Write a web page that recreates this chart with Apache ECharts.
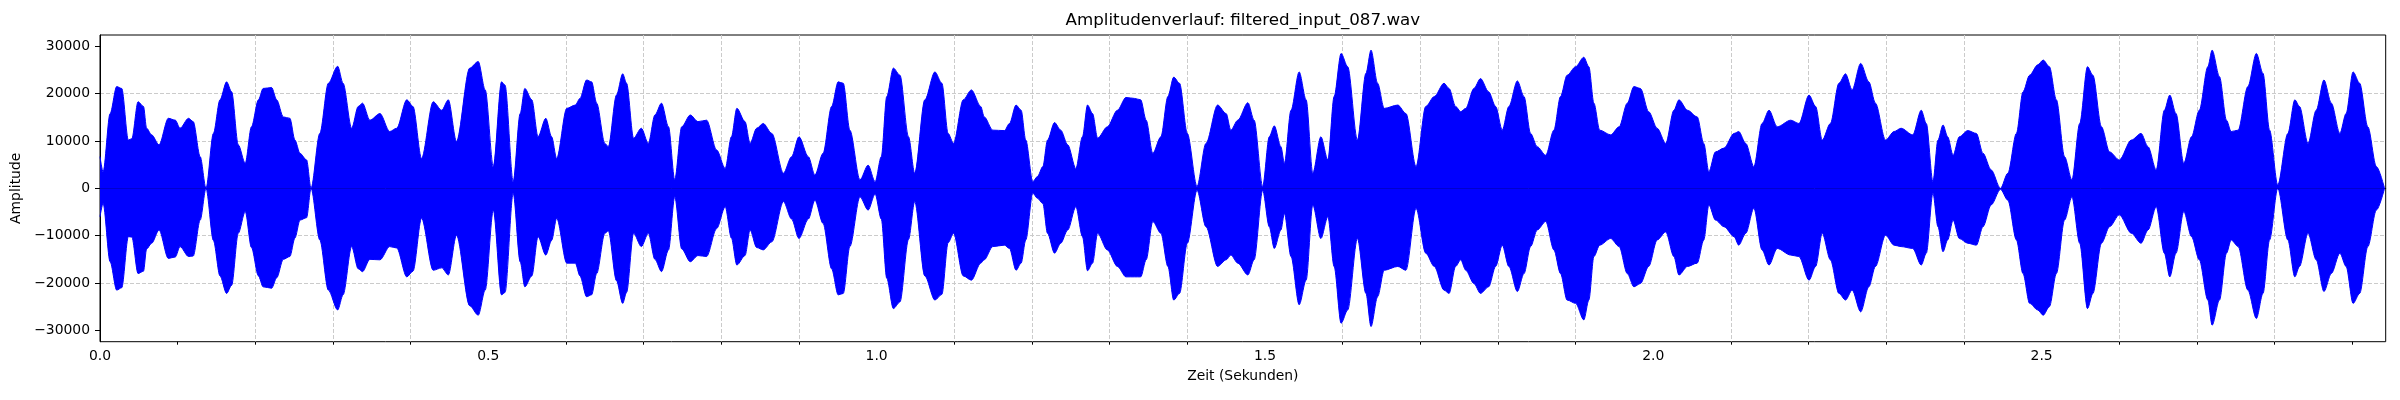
<!DOCTYPE html>
<html lang="de">
<head>
    <meta charset="UTF-8">
    <title>Amplitudenverlauf</title>
    <style>
        html, body { margin: 0; padding: 0; background: #fff; }
        #main { width: 2400px; height: 400px; }
    </style>
</head>
<body>
<div id="main"></div>
<script src="https://cdn.jsdelivr.net/npm/echarts@6/dist/echarts.min.js"></script>
<script type="text/javascript">
    var titleText = 'Amplitudenverlauf: filtered_input_087.wav';
    var xName = 'Zeit (Sekunden)';
    var yName = 'Amplitude';

    // Zeitpunkte (s) der Huellkurve
    var timeSec = [
        0, 0.004, 0.013, 0.0215, 0.028, 0.0365, 0.041, 0.049, 0.056, 0.060,
        0.0665, 0.076, 0.088, 0.097, 0.103, 0.114, 0.120, 0.129, 0.1365, 0.146,
        0.1545, 0.163, 0.1695, 0.178, 0.187, 0.195, 0.204, 0.210, 0.221, 0.2275,
        0.236, 0.2445, 0.251, 0.2575, 0.266, 0.2717, 0.283, 0.294, 0.306, 0.313,
        0.324, 0.3325, 0.338, 0.3475, 0.3605, 0.373, 0.382, 0.395, 0.403, 0.414,
        0.429, 0.440, 0.4485, 0.459, 0.476, 0.487, 0.496, 0.5064,
        0.517, 0.5215, 0.532, 0.541, 0.547, 0.556, 0.564, 0.574, 0.5815, 0.588,
        0.601, 0.612, 0.618, 0.6265, 0.633, 0.6395, 0.650, 0.6545, 0.665, 0.673,
        0.678, 0.687, 0.697, 0.706, 0.7145, 0.723, 0.732, 0.740, 0.749, 0.760,
        0.770, 0.781, 0.794, 0.805, 0.813, 0.820, 0.8305, 0.837, 0.8455, 0.854,
        0.865, 0.880, 0.8905, 0.900, 0.912, 0.9205, 0.931, 0.942, 0.9505, 0.957,
        0.9655, 0.9785, 0.989, 0.998, 1.006, 1.013, 1.0215, 1.030, 1.041, 1.049,
        1.062, 1.075, 1.084, 1.092, 1.099, 1.1115, 1.122,
        1.134, 1.1385, 1.1495, 1.1645, 1.171, 1.1795, 1.186, 1.192, 1.201, 1.207,
        1.214, 1.220, 1.229, 1.237, 1.246, 1.2565, 1.265, 1.2715, 1.278, 1.2845,
        1.297, 1.310, 1.321, 1.332, 1.340, 1.347, 1.3555, 1.366, 1.375, 1.3825,
        1.390, 1.400, 1.4125, 1.424, 1.439, 1.450, 1.456, 1.465, 1.478, 1.486,
        1.497, 1.5055, 1.512, 1.5205, 1.525, 1.5335, 1.544, 1.553, 1.5615, 1.572,
        1.581, 1.589, 1.598, 1.6065, 1.619, 1.630, 1.6365, 1.645, 1.6535, 1.671,
        1.6815, 1.6945, 1.707, 1.718,
        1.7305, 1.737, 1.7455, 1.752, 1.7585, 1.769, 1.7775, 1.788, 1.797, 1.8055,
        1.814, 1.825, 1.8335, 1.842, 1.8505, 1.8615, 1.872, 1.8805, 1.889, 1.900,
        1.9105, 1.917, 1.9235, 1.931, 1.945, 1.956, 1.9665, 1.975, 1.9835, 1.994,
        2.005, 2.016, 2.0265, 2.033, 2.044, 2.0565, 2.065, 2.0715, 2.080, 2.091,
        2.104, 2.110, 2.119, 2.1295, 2.140, 2.149, 2.1595, 2.177, 2.1875, 2.2005,
        2.209, 2.2175, 2.228, 2.239, 2.2475, 2.256, 2.267, 2.2775, 2.286, 2.299,
        2.310,
        2.319, 2.334, 2.345, 2.3515, 2.360, 2.3665, 2.373, 2.379, 2.386, 2.394,
        2.405, 2.416, 2.4245, 2.435, 2.447, 2.4565, 2.4675, 2.476, 2.4845, 2.495,
        2.502, 2.510, 2.519, 2.5295, 2.539, 2.549, 2.559, 2.566, 2.577, 2.5875,
        2.600, 2.6155, 2.628, 2.637, 2.6475, 2.658, 2.665, 2.673, 2.683, 2.693,
        2.703, 2.714, 2.7195, 2.729, 2.738, 2.744, 2.753, 2.7655, 2.7765, 2.785,
        2.7935, 2.804, 2.817, 2.826, 2.832, 2.843, 2.8535, 2.8635, 2.873, 2.884,
        2.892, 2.901, 2.9095, 2.920, 2.931, 2.9415
    ];

    // obere Huellkurve
    var upperEnv = [
        6700, 3500, 15800, 21500, 21100, 10200, 10500, 18300, 17300, 12700,
        11300, 9200, 14800, 14400, 12700, 14800, 14100, 6700, 0, 11600,
        18700, 22500, 20400, 9200, 5300, 13000, 18700, 21100, 21300, 18700,
        15100, 14800, 10200, 7400, 6000, 0, 11600, 22200, 25800, 22200,
        12700, 17300, 18000, 14400, 15800, 12000, 12700, 18700, 17300, 6300,
        18300, 16500, 18700, 9900, 25400, 26800, 20800, 4600,
        22500, 21800, 1400, 15800, 21100, 18700, 10900, 14800, 10900, 6300,
        16900, 17600, 19000, 22900, 22500, 18000, 9500, 8800, 19700, 24200,
        22200, 10600, 12700, 9500, 15500, 18000, 13000, 1800, 13000, 15500,
        14100, 14400, 8100, 4200, 10900, 16900, 14100, 9500, 12700, 13700,
        11600, 3200, 6700, 10900, 6700, 2800, 7400, 17300, 22500, 22200,
        12300, 1800, 4900, 1400, 6700, 19400, 25400, 23900, 10900, 3200,
        18700, 24600, 22200, 11600, 9500, 18700, 20800,
        17300, 15100, 12300, 12200, 13700, 17600, 16500, 10200, 1400, 2500,
        4600, 10200, 13900, 12300, 9200, 4200, 10900, 17600, 15800, 10600,
        13000, 16500, 19200, 19000, 18700, 14400, 7400, 10900, 19400, 23500,
        22200, 11600, 400, 9500, 17600, 15800, 12300, 14400, 18100, 14400,
        400, 10900, 13200, 8800, 5300, 16500, 24600, 18700, 3200, 10900,
        6000, 19400, 28500, 25700, 10200, 24300, 29200, 22200, 16900, 17600,
        15800, 4600, 17300, 19400,
        22200, 21100, 17300, 16200, 16900, 21100, 23200, 20400, 17300, 12300,
        17300, 22700, 19400, 11600, 8800, 7000, 12300, 19400, 23900, 25700,
        27700, 25700, 18000, 12300, 11300, 13000, 18000, 21500, 21100, 16200,
        12700, 9500, 16500, 18700, 16500, 15100, 9500, 3500, 7700, 8500,
        11600, 12000, 9500, 4600, 13700, 16500, 13000, 14400, 13700, 19700,
        17300, 10200, 13700, 22200, 24200, 20800, 26400, 22500, 18000, 10200,
        12000,
        12700, 11300, 16500, 13700, 1400, 10200, 13400, 10900, 7000, 10900,
        12200, 11600, 7400, 3900, 0, 3200, 11600, 20400, 23900, 26100,
        27100, 25700, 18700, 6700, 1800, 13700, 25700, 23900, 13000, 7700,
        6000, 10200, 11600, 8800, 3900, 16500, 19700, 15800, 5300, 10900,
        16500, 25700, 29200, 23600, 14400, 12000, 12300, 21500, 28500, 24300,
        12300, 700, 11600, 18700, 17300, 9500, 16500, 22900, 18000, 11600,
        15800, 24600, 22200, 13000, 4600, 0
    ];

    // untere Huellkurve
    var lowerEnv = [
        -6000, -3200, -15500, -21500, -21000, -10200, -10300, -18000, -17500, -12800,
        -11600, -8800, -14800, -14500, -12300, -14400, -14300, -6700, 0, -11000,
        -18500, -22200, -20500, -9500, -4900, -12500, -18500, -20800, -21100, -18900,
        -15000, -14400, -10500, -6700, -6200, 0, -10900, -21500, -25700, -22500,
        -12300, -17000, -17600, -15000, -15100, -12300, -12600, -18700, -17500, -6300,
        -17300, -16800, -18300, -9900, -24800, -26800, -21500, -4600,
        -22500, -22000, -1000, -15500, -20800, -18500, -10200, -14100, -11000, -6300,
        -15800, -15800, -18500, -22900, -22500, -18000, -9500, -9000, -19500, -24300,
        -22000, -9500, -12300, -9500, -15000, -17600, -13000, -1800, -12800, -15500,
        -14200, -14400, -8500, -3900, -10500, -16200, -14200, -8800, -12500, -13000,
        -11300, -2800, -6500, -10600, -6500, -2500, -7400, -17000, -22500, -22200,
        -12300, -1800, -4600, -1200, -6500, -19000, -25400, -24000, -10800, -2800,
        -18500, -23600, -22400, -11500, -9500, -18500, -19400,
        -15800, -15100, -12300, -12000, -12700, -17300, -15800, -10900, -1000, -2100,
        -3200, -9500, -13700, -11600, -8800, -3900, -10200, -17400, -15800, -9500,
        -13000, -16500, -18700, -18700, -18700, -15100, -7000, -9500, -16500, -23600,
        -22200, -11600, -400, -8100, -16500, -15100, -14100, -15800, -18300, -15100,
        -400, -8100, -12700, -8800, -5300, -14400, -24600, -19400, -3500, -10600,
        -6000, -16500, -28500, -25700, -10600, -22200, -29200, -22900, -17300, -16500,
        -17300, -4200, -13700, -16500,
        -21500, -22200, -16500, -15100, -17300, -20100, -22200, -20800, -16500, -12000,
        -16500, -21800, -18000, -12300, -8800, -7000, -13000, -18000, -23600, -24300,
        -27800, -23600, -14400, -12000, -10600, -12300, -18000, -20800, -20100, -16500,
        -10900, -9200, -14400, -18300, -16500, -15800, -10900, -3500, -6700, -8100,
        -10200, -12000, -9500, -4200, -13000, -16200, -12700, -14100, -14400, -19400,
        -16500, -9500, -15100, -22200, -23600, -21500, -26100, -20800, -16500, -9900,
        -12000,
        -12300, -12700, -16200, -13700, -1000, -8100, -13400, -10900, -6700, -10600,
        -11600, -12000, -8100, -3500, -200, -2500, -10900, -18000, -24300, -25700,
        -26800, -25000, -18000, -6700, -1800, -11600, -25400, -22200, -11600, -8100,
        -5600, -9500, -11600, -8800, -3900, -13700, -18700, -13700, -4900, -10200,
        -15100, -23600, -28900, -23600, -13700, -10900, -12300, -21500, -27500, -22200,
        -10900, 0, -10900, -18700, -16500, -9500, -15100, -21800, -18000, -13700,
        -16500, -24300, -22200, -12300, -4600, 0
    ];

    // Achsen
    var xMax = 2.943;
    var yMin = -32400, yMax = 32400;
    var xMajorTicks = [0, 0.5, 1.0, 1.5, 2.0, 2.5];
    var xMinorTicks = [0.1, 0.2, 0.3, 0.4, 0.6, 0.7, 0.8, 0.9, 1.1, 1.2, 1.3, 1.4,
        1.6, 1.7, 1.8, 1.9, 2.1, 2.2, 2.3, 2.4, 2.6, 2.7, 2.8, 2.9];
    var yTicks = [-30000, -20000, -10000, 0, 10000, 20000, 30000];

    var font = 'DejaVu Sans';
    var blue = '#0000ff';
    var gridLine = { color: '#cbcbcb', width: 1, type: [4, 2] };

    function pairs(t, v) {
        var out = [];
        for (var i = 0; i < t.length; i++) {
            out.push([t[i], v[i]]);
        }
        return out;
    }

    function init() {
        var myChart = echarts.init(document.getElementById('main'), null, { renderer: 'canvas' });

        // Titel ueber der Mitte der Zeichenflaeche
        var ctx = document.createElement('canvas').getContext('2d');
        ctx.font = '16.7px "' + font + '"';
        var titleW = ctx.measureText(titleText).width;
        var plotCenter = (100 + 2385.7) / 2;

        var option = {
            animation: false,
            backgroundColor: '#fff',
            title: {
                text: titleText,
                left: plotCenter - titleW / 2,
                top: 12,
                padding: 0,
                textAlign: 'left',
                textStyle: { fontFamily: font, fontSize: 16.7, fontWeight: 'normal', color: '#000' }
            },
            grid: {
                left: 100,
                right: 14.3,
                top: 35,
                bottom: 58.3,
                show: true,
                borderColor: '#000',
                borderWidth: 1,
                backgroundColor: 'transparent'
            },
            xAxis: [
                {
                    type: 'value',
                    min: 0,
                    max: xMax,
                    interval: 0.5,
                    position: 'bottom',
                    name: xName,
                    nameLocation: 'middle',
                    nameGap: 28,
                    nameTextStyle: { fontFamily: font, fontSize: 13.9, color: '#000' },
                    axisLine: { show: true, lineStyle: { color: '#000', width: 1 } },
                    axisTick: { show: true, length: 5, customValues: xMajorTicks, lineStyle: { color: '#000', width: 1 } },
                    axisLabel: {
                        customValues: xMajorTicks,
                        margin: 8,
                        fontFamily: font,
                        fontSize: 13.9,
                        color: '#000',
                        formatter: function (v) { return v.toFixed(1); }
                    },
                    splitLine: { show: false }
                },
                {
                    type: 'value',
                    min: 0,
                    max: xMax,
                    interval: 0.1,
                    position: 'bottom',
                    axisLine: { show: false },
                    axisTick: { show: true, length: 3, customValues: xMinorTicks, lineStyle: { color: '#000', width: 1 } },
                    axisLabel: { show: false },
                    splitLine: { show: true, showMinLine: false, showMaxLine: false, lineStyle: gridLine }
                }
            ],
            yAxis: {
                type: 'value',
                min: yMin,
                max: yMax,
                splitNumber: 6,
                name: yName,
                nameLocation: 'middle',
                nameGap: 72,
                nameTextStyle: { fontFamily: font, fontSize: 13.9, color: '#000' },
                axisLine: { show: true, lineStyle: { color: '#000', width: 1 } },
                axisTick: { show: true, length: 5, customValues: yTicks, lineStyle: { color: '#000', width: 1 } },
                axisLabel: {
                    customValues: yTicks,
                    margin: 10,
                    fontFamily: font,
                    fontSize: 13.9,
                    color: '#000',
                    formatter: function (v) { return v < 0 ? '\u2212' + (-v) : String(v); }
                },
                splitLine: { show: true, showMinLine: false, showMaxLine: false, lineStyle: gridLine }
            },
            series: [
                {
                    name: 'oben',
                    type: 'line',
                    xAxisIndex: 0,
                    data: pairs(timeSec, upperEnv),
                    symbol: 'none',
                    smooth: 0.3,
                    smoothMonotone: 'x',
                    lineStyle: { color: blue, width: 1 },
                    areaStyle: { color: blue, opacity: 1 },
                    z: 3
                },
                {
                    name: 'unten',
                    type: 'line',
                    xAxisIndex: 0,
                    data: pairs(timeSec, lowerEnv),
                    symbol: 'none',
                    smooth: 0.3,
                    smoothMonotone: 'x',
                    lineStyle: { color: blue, width: 1 },
                    areaStyle: { color: blue, opacity: 1 },
                    z: 3
                }
            ]
        };
        myChart.setOption(option);
    }

    init();
</script>
</body>
</html>
